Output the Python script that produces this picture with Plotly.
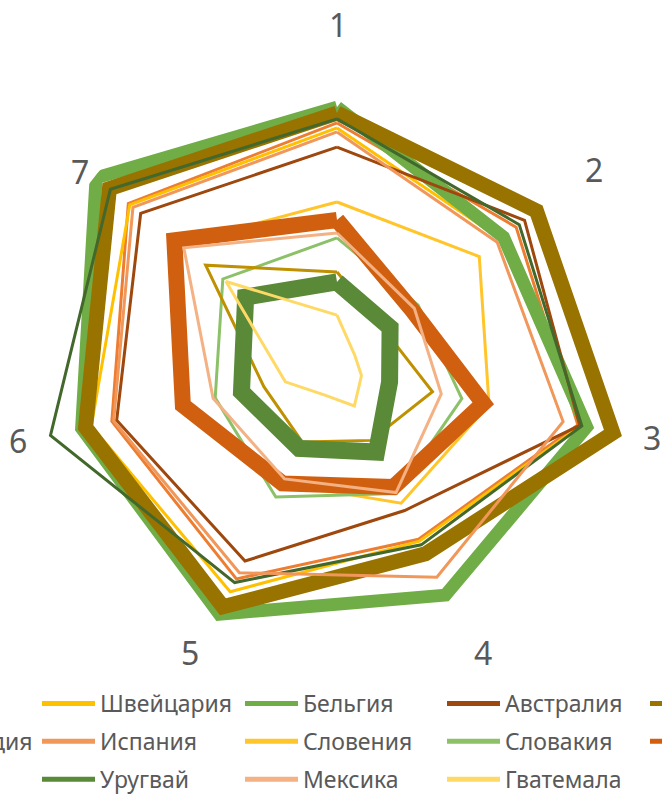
import plotly.graph_objects as go

W, H = 662, 795

categories = ["1", "2", "3", "4", "5", "6", "7"]

# series values (0-100 scale), in legend order s1..s14
s_denmark = [79.7, 73.9, 79.7, 60.6, 74.8, 74.5, 86.1]
s_switzerland = [78.1, 67.7, 80.6, 61.3, 79.4, 81.3, 85.5]
s_belgium = [84.8, 68.7, 82.6, 80.6, 87.4, 84.5, 99.4]
s_australia = [71.9, 77.4, 80.3, 50.3, 68.4, 72.9, 81.0]
s_austria = [82.9, 82.3, 91.3, 65.8, 84.8, 83.2, 93.9]
s_finland = [81.0, 75.2, 81.0, 62.6, 76.1, 94.8, 93.5]
s_spain = [76.8, 66.1, 74.8, 74.2, 72.6, 73.9, 84.2]
s_slovenia = [54.2, 58.7, 50.3, 47.7, 40.6, 51.0, 65.2]
s_slovakia = [42.6, 33.5, 41.3, 44.2, 45.5, 40.3, 47.1]
s_france = [48.4, 31.0, 48.4, 41.9, 40.6, 51.0, 67.1]
s_canada = [31.6, 20.0, 31.6, 25.2, 25.8, 24.2, 54.2]
s_uruguay = [28.4, 21.9, 17.4, 29.4, 28.1, 31.6, 37.7]
s_mexico = [44.2, 31.9, 34.5, 43.9, 39.0, 41.0, 63.2]
s_guatemala = [17.7, 7.4, 8.1, 12.9, 9.0, 17.1, 45.8]

series = [
    ("Дания", s_denmark, "#ED7D31", 3, "legend"),
    ("Швейцария", s_switzerland, "#FFC000", 3, "legend2"),
    ("Бельгия", s_belgium, "#70AD47", 13, "legend3"),
    ("Австралия", s_australia, "#9E480E", 3, "legend4"),
    ("Австрия", s_austria, "#997300", 15, "legend5"),
    ("Финляндия", s_finland, "#43682B", 3, "legend"),
    ("Испания", s_spain, "#F1975A", 3, "legend2"),
    ("Словения", s_slovenia, "#FFC52A", 3, "legend3"),
    ("Словакия", s_slovakia, "#8CC168", 3, "legend4"),
    ("Франция", s_france, "#D0600F", 16, "legend5"),
    ("Канада", s_canada, "#BF9000", 3, "legend"),
    ("Уругвай", s_uruguay, "#5A8A38", 17, "legend2"),
    ("Мексика", s_mexico, "#F4B183", 3, "legend3"),
    ("Гватемала", s_guatemala, "#FFD966", 3, "legend4"),
]

fig = go.Figure()
for name, vals, color, width, leg in series:
    fig.add_trace(go.Scatterpolar(
        r=vals + vals[:1],
        theta=categories + categories[:1],
        mode="lines",
        name=name,
        line=dict(color=color, width=width),
        legend=leg,
        legendgroup=name,
    ))

# geometry
cx, cy, R = 337, 370, 310
dom_x = [(cx - R) / W, (cx + R) / W]
dom_y = [1 - (cy + R) / H, 1 - (cy - R) / H]

font_family = "Noto Sans, Open Sans, sans-serif"
leg_common = dict(
    orientation="v", xanchor="left", yanchor="top",
    font=dict(family=font_family, size=23, color="#595959"),
    bgcolor="rgba(0,0,0,0)", borderwidth=0,
    itemwidth=53, tracegroupgap=5, itemsizing="constant",
    itemclick=False, itemdoubleclick=False,
)
ly = 1 - 682 / H
col_x = [-160, 37, 240, 442, 645]

layout_legends = {}
for k, lx in enumerate(col_x):
    key = "legend" if k == 0 else f"legend{k + 1}"
    layout_legends[key] = dict(leg_common, x=lx / W, y=ly)

# category label placement (pixel offsets from the chart centre, Excel-like)
label_offsets = [(1, -345), (257, -200), (315, 67), (146, 282),
                 (-147, 282), (-319, 70), (-257, -198)]
annotations = []
for cat, (dx, dy) in zip(categories, label_offsets):
    annotations.append(dict(
        text=cat, x=(cx + dx) / W, y=1 - (cy + dy) / H,
        xref="paper", yref="paper",
        xanchor="center", yanchor="middle", showarrow=False,
        font=dict(family=font_family, size=32, color="#595959"),
    ))

fig.update_layout(
    width=W, height=H,
    margin=dict(l=0, r=0, t=0, b=0, autoexpand=False),
    paper_bgcolor="white",
    showlegend=True,
    annotations=annotations,
    polar=dict(
        domain=dict(x=dom_x, y=dom_y),
        bgcolor="white",
        radialaxis=dict(visible=False, range=[0, 100], showgrid=False, showline=False),
        angularaxis=dict(
            rotation=90, direction="clockwise",
            showgrid=False, showline=False, showticklabels=False, ticks="",
        ),
    ),
    **layout_legends,
)

fig.write_html("out.html")
